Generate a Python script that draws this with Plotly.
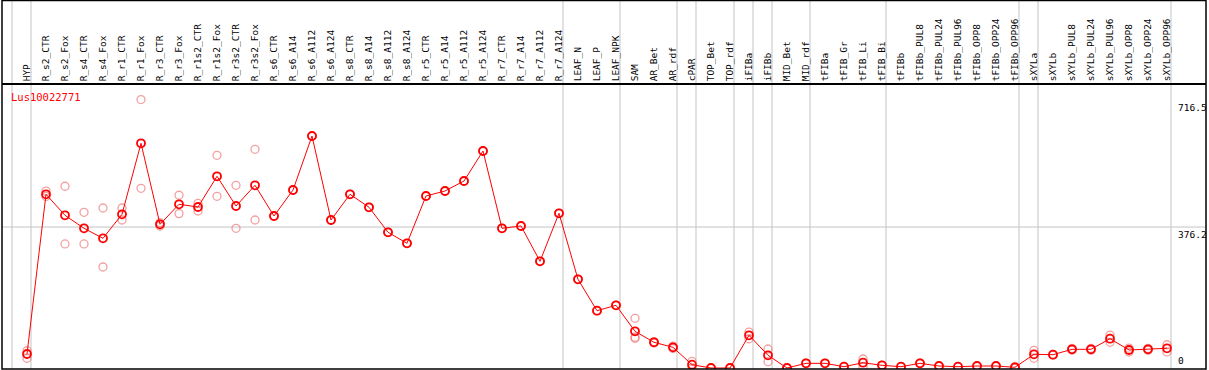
import plotly.graph_objects as go

categories = ["HYP","R_s2_CTR","R_s2_Fox","R_s4_CTR","R_s4_Fox","R_r1_CTR","R_r1_Fox","R_r3_CTR","R_r3_Fox",
              "R_r1s2_CTR","R_r1s2_Fox","R_r3s2_CTR","R_r3s2_Fox","R_s6_CTR","R_s6_A14","R_s6_A112","R_s6_A124",
              "R_s8_CTR","R_s8_A14","R_s8_A112","R_s8_A124","R_r5_CTR","R_r5_A14","R_r5_A112","R_r5_A124",
              "R_r7_CTR","R_r7_A14","R_r7_A112","R_r7_A124","LEAF_N","LEAF_P","LEAF_NPK","SAM","AR_Bet","AR_rdf",
              "cPAR","TOP_Bet","TOP_rdf","iFIBa","iFIBb","MID_Bet","MID_rdf","tFIBa","tFIB_Gr","tFIB_Li","tFIB_Bi",
              "tFIBb","tFIBb_PUL8","tFIBb_PUL24","tFIBb_PUL96","tFIBb_OPP8","tFIBb_OPP24","tFIBb_OPP96",
              "sXYLa","sXYLb","sXYLb_PUL8","sXYLb_PUL24","sXYLb_PUL96","sXYLb_OPP8","sXYLb_OPP24","sXYLb_OPP96"]

mean_values = [37.4,463.6,407.5,372.8,346.1,410.2,599.7,383.5,436.9,429.7,511.6,432.3,487.6,405.7,475.0,619.2,395.0,
               463.6,428.9,362.2,332.8,459.0,472.4,499.1,579.1,372.8,379.0,284.8,412.9,236.7,152.9,167.3,97.9,68.6,55.2,
               8.8,0.0,0.0,87.3,33.9,0.0,12.5,12.5,3.5,14.1,7.2,3.5,12.5,5.3,3.5,5.3,5.3,1.9,
               36.6,35.5,49.9,49.9,78.2,48.0,49.9,52.6]

rep1 = [46,472,485,415.5,427,427,716.5,379,461,439.5,567.6,487.6,583.7,405.7,475.0,619.2,395.0,
        463.6,428.9,362.2,332.8,459.0,472.4,499.1,579.1,372.8,379.0,284.8,412.9,236.7,152.9,167.3,132.6,70,58,
        17.6,0.0,0.0,96,50.7,0.0,13,12.5,3.5,24,7.2,3.5,13,5.3,3.5,5.3,5.3,4,
        47,36,52,52,88,53,52,62]
rep2 = [26,458,331,331,269.6,395,479.6,388,412,419,458.2,372.8,395,405.7,475.0,619.2,395.0,
        463.6,428.9,362.2,332.8,459.0,472.4,499.1,579.1,372.8,379.0,284.8,412.9,236.7,152.9,167.3,79.3,67,52,
        0.0,0.0,0.0,78,16.8,0.0,12,12.5,3.5,3.5,7.2,3.5,12,5.3,3.5,5.3,5.3,0,
        25.9,35,47.8,47.8,68.6,42.7,47.8,43]
rep3 = [None]*32 + [82] + [None]*28

boundaries = [0, 1, 29, 32, 35, 36, 38, 39, 40, 42, 46, 53, 54, 61]
y_labels = [716.5, 376.2, 0]
gene = "Lus10022771"

x = list(range(1, len(categories) + 1))
mono = "DejaVu Sans Mono"

fig = go.Figure()
rep_marker = dict(symbol="circle-open", size=8, color="rgba(236,120,120,0.7)", line=dict(width=1.3))
for rep in (rep1, rep2, rep3):
    fig.add_trace(go.Scatter(x=x, y=rep, mode="markers", marker=rep_marker, showlegend=False, hoverinfo="skip"))
fig.add_trace(go.Scatter(x=x, y=mean_values, mode="lines+markers",
                         line=dict(color="#ff0000", width=1),
                         marker=dict(symbol="circle-open", size=8, color="#ff0000", line=dict(width=1.8)),
                         showlegend=False))

H = 284.0
top_paper = 369.0 / H
shapes = []
for b in boundaries:
    shapes.append(dict(type="line", xref="x", yref="paper", x0=b + 0.21, x1=b + 0.21, y0=0, y1=top_paper,
                       line=dict(color="#c4c4c4", width=1), layer="below"))
shapes.append(dict(type="line", xref="paper", yref="y", x0=0, x1=1, y0=y_labels[1], y1=y_labels[1],
                   line=dict(color="#c4c4c4", width=1), layer="below"))
shapes.append(dict(type="rect", xref="paper", yref="paper", x0=0, x1=1, y0=0, y1=(369 - 0.5) / H,
                   line=dict(color="black", width=1.5)))

annotations = [dict(text=gene, xref="paper", yref="paper", x=7 / 1204, y=(369 - 97) / H, xanchor="left",
                    yanchor="middle", showarrow=False, font=dict(family=mono, size=10.5, color="#ff0000"))]
for v, anc in zip(y_labels, ["top", "top", "bottom"]):
    annotations.append(dict(text=str(v) if v != 0 else "0", xref="paper", yref="y", x=(1176 - 2) / 1204, y=v,
                            xanchor="left", yanchor=anc, showarrow=False,
                            font=dict(family=mono, size=9.5, color="black")))

fig.update_layout(
    width=1209, height=370,
    margin=dict(l=2, r=3, t=85, b=1, pad=0),
    paper_bgcolor="white", plot_bgcolor="white",
    shapes=shapes, annotations=annotations,
    xaxis=dict(range=[1 - 25 / 19, 1 + 1179 / 19], tickvals=x, ticktext=categories, side="top",
               tickangle=-90, showgrid=False, zeroline=False, showline=True, linecolor="black", linewidth=1.5,
               ticks="", tickfont=dict(family=mono, size=9.5, color="black")),
    yaxis=dict(range=[-1 / 0.3747, (368 - 85) / 0.3747], showgrid=False, zeroline=False,
               showticklabels=False, ticks=""),
)
fig.write_html("out.html", config={"displayModeBar": False},
               post_script="document.body.style.margin='0';document.body.style.overflow='hidden';")
